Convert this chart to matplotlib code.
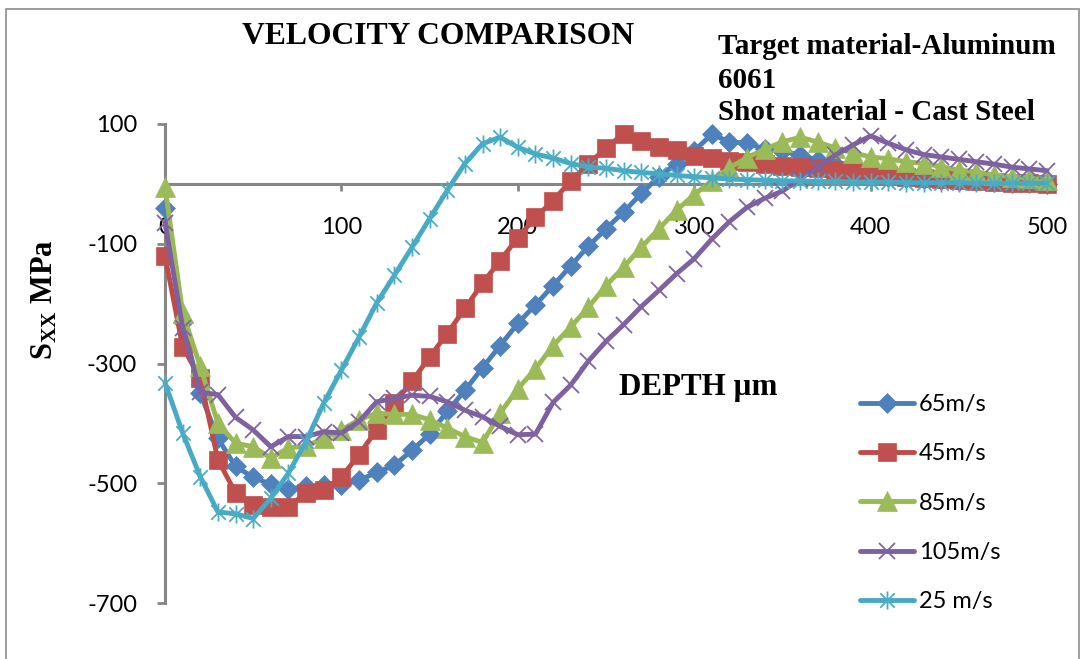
import matplotlib
matplotlib.use("Agg")
import matplotlib.pyplot as plt
from matplotlib.path import Path
from matplotlib.patches import Rectangle

# Residual stress S_xx (MPa) versus depth (µm) for each shot velocity
depth = list(range(0, 501, 10))

s_65 = [-40, -230, -350, -425, -472, -490, -502, -510, -505, -503,
        -503, -495, -482, -470, -445, -418, -380, -345, -307, -270,
        -233, -202, -170, -137, -104, -75, -47, -16, 12, 34,
        55, 83, 70, 68, 58, 55, 48, 40, 30, 20,
        15, 12, 10, 8, 6, 5, 4, 3, 2, 1, 0]

s_45 = [-120, -272, -325, -461, -516, -536, -539, -539, -516, -511,
        -490, -452, -411, -366, -330, -289, -250, -208, -166, -128,
        -90, -56, -28, 5, 33, 60, 84, 72, 61, 56,
        47, 44, 39, 36, 33, 30, 28, 26, 24, 20,
        17, 14, 12, 10, 8, 6, 4, 3, 2, 1, 0]

s_85 = [-5, -215, -305, -400, -433, -439, -458, -441, -438, -425,
        -411, -394, -383, -385, -385, -394, -408, -422, -432, -383,
        -342, -309, -270, -239, -206, -170, -139, -106, -75, -44,
        -18, 5, 27, 44, 58, 70, 78, 70, 60, 52,
        45, 42, 37, 34, 29, 23, 20, 15, 12, 10, 7]

s_105 = [-65, -240, -348, -352, -390, -411, -439, -422, -422, -414,
         -416, -397, -364, -358, -353, -355, -364, -378, -389, -405,
         -419, -418, -365, -336, -296, -263, -235, -205, -178, -150,
         -125, -92, -63, -39, -24, -12, 8, 28, 48, 65,
         80, 68, 57, 49, 45, 41, 37, 33, 28, 25, 22]

s_25 = [-332, -416, -489, -548, -551, -559, -525, -483, -430, -366,
        -311, -256, -199, -153, -106, -58, -11, 34, 67, 78,
        61, 50, 43, 34, 28, 26, 22, 19, 17, 14,
        12, 10, 8, 7, 6, 5, 5, 4, 4, 3,
        3, 3, 2, 2, 2, 2, 1, 1, 1, 1, 1]

series_labels = ["65m/s", "45m/s", "85m/s", "105m/s", "25 m/s"]
x_ticks = [0, 100, 200, 300, 400, 500]
y_ticks = [-700, -500, -300, -100, 100]

plt.rcParams["font.family"] = ["Lato", "DejaVu Sans"]
plt.rcParams["axes.unicode_minus"] = False
plt.rcParams["mathtext.fontset"] = "custom"
plt.rcParams["mathtext.rm"] = "Liberation Serif"
plt.rcParams["mathtext.bf"] = "Liberation Serif:bold"

# Excel-style "star" marker: an x with a vertical bar through it
asterisk = Path([(-1, -1), (1, 1), (-1, 1), (1, -1), (0, -1.25), (0, 1.25)],
                [Path.MOVETO, Path.LINETO] * 3)

styles = [
    dict(color="#4A7EBB", marker="D", ms=10, mfc="#4F81BD", mec="#4F81BD", mew=0.5),
    dict(color="#BE4B48", marker="s", ms=13, mfc="#C0504D", mec="#C0504D", mew=0.5),
    dict(color="#98B954", marker="^", ms=14, mfc="#9BBB59", mec="#9BBB59", mew=0.5),
    dict(color="#7D60A0", marker="x", ms=12, mfc="none", mec="#8064A2", mew=1.3),
    dict(color="#46AAC5", marker=asterisk, ms=13, mfc="none", mec="#4BACC6", mew=1.3),
]
all_series = [s_65, s_45, s_85, s_105, s_25]

W, H = 1084, 659
fig = plt.figure(figsize=(W / 100, H / 100), dpi=100)
fig.patch.set_facecolor("white")
fig.patches.append(Rectangle((6 / W, -0.01), (1079 - 6) / W, 1 - 9 / H + 0.01,
                             transform=fig.transFigure, fill=False,
                             edgecolor="#8C8C8C", lw=1.2))

ax = fig.add_axes([165 / W, 1 - 603 / H, (1047 - 165) / W, (603 - 124) / H])

for vals, lab, st in zip(all_series, series_labels, styles):
    ax.plot(depth, vals, lw=3.5, label=lab, clip_on=False,
            solid_capstyle="round", solid_joinstyle="round", **st)

ax.set_xlim(0, 500)
ax.set_ylim(-700, 100)
ax.set_xticks(x_ticks)
ax.set_yticks(y_ticks)

axis_grey = "#868686"
for side in ("top", "right"):
    ax.spines[side].set_visible(False)
ax.spines["bottom"].set_position(("data", 0))
for side in ("bottom", "left"):
    ax.spines[side].set_color(axis_grey)
    ax.spines[side].set_linewidth(2.2)
    ax.spines[side].set_zorder(0.5)

ax.tick_params(axis="x", direction="out", length=5, width=2, color=axis_grey,
               pad=19, labelsize=17)
ax.tick_params(axis="y", direction="out", length=6, width=2, color=axis_grey,
               pad=14, labelsize=17)

serif = "Liberation Serif"
fig.text(438 / W, 1 - 37 / H, "VELOCITY COMPARISON", family=serif,
         weight="bold", fontsize=22.8, ha="center", va="center")
for i, line in enumerate(["Target material-Aluminum", "6061", "Shot material - Cast Steel"]):
    fig.text(718 / W, 1 - (47 + 33 * i) / H, line, family=serif, weight="bold",
             fontsize=21, ha="left", va="center")
fig.text(698 / W, 1 - 388 / H, "DEPTH µm", family=serif, weight="bold",
         fontsize=22.3, ha="center", va="center")
fig.text(45 / W, 1 - 300 / H, r"$\mathbf{S_{XX}}$" + " MPa", family=serif,
         weight="bold", fontsize=22, rotation=90, ha="center", va="center")

ax.legend(loc="upper left", bbox_to_anchor=(860 / W, 1 - 394 / H),
          bbox_transform=fig.transFigure, frameon=False, fontsize=17,
          handlelength=2.3, handletextpad=0.2, labelspacing=1.2,
          borderpad=0, borderaxespad=0, numpoints=1)

fig.savefig("out.png", dpi=100, facecolor="white")
